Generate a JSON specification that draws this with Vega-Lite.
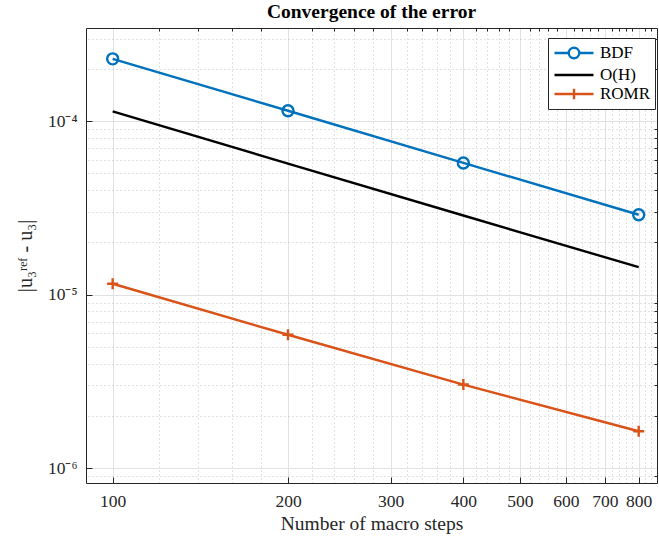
{
  "$schema": "https://vega.github.io/schema/vega-lite/v6.json",
  "autosize": "none",
  "width": 571,
  "height": 455,
  "padding": {"left": 86, "top": 28, "right": 2, "bottom": 58},
  "background": "white",
  "title": {"text": "Convergence of the error", "font": "Liberation Serif", "fontSize": 19.5, "fontWeight": "bold", "color": "#000000", "offset": 5, "anchor": "middle"},
  "config": {
    "font": "Liberation Serif",
    "view": {"stroke": null},
    "axis": {"domainColor": "#262626", "tickColor": "#262626", "labelColor": "#262626", "titleColor": "#262626", "labelFont": "Liberation Serif", "titleFont": "Liberation Serif", "labelFontSize": 17.5, "titleFontSize": 19.5, "titleFontWeight": "normal"}
  },
  "data": {"values": [
    {"steps": 100, "err": 2.29e-4, "method": "BDF"},
    {"steps": 200, "err": 1.15e-4, "method": "BDF"},
    {"steps": 400, "err": 5.75e-5, "method": "BDF"},
    {"steps": 800, "err": 2.89e-5, "method": "BDF"},
    {"steps": 100, "err": 1.14e-4, "method": "O(H)"},
    {"steps": 200, "err": 5.7e-5, "method": "O(H)"},
    {"steps": 400, "err": 2.86e-5, "method": "O(H)"},
    {"steps": 800, "err": 1.44e-5, "method": "O(H)"},
    {"steps": 100, "err": 1.156e-5, "method": "ROMR"},
    {"steps": 200, "err": 5.87e-6, "method": "ROMR"},
    {"steps": 400, "err": 3.03e-6, "method": "ROMR"},
    {"steps": 800, "err": 1.63e-6, "method": "ROMR"}
  ]},
  "layer": [
    {
      "mark": {"type": "line", "strokeWidth": 2.4},
      "encoding": {
        "x": {"field": "steps", "type": "quantitative", "scale": {"type": "log", "domain": [90, 860], "nice": false},
          "axis": {"orient": "bottom", "values": [100, 200, 300, 400, 500, 600, 700, 800], "format": "d", "grid": true, "gridColor": "#e2e2e2", "gridWidth": 1, "tickSize": -6, "labelPadding": 15, "title": "Number of macro steps", "titlePadding": 5, "labelFlush": false}},
        "y": {"field": "err", "type": "quantitative", "scale": {"type": "log", "domain": [8.2e-7, 3.45e-4], "nice": false},
          "axis": {"orient": "left", "values": [1e-6, 1e-5, 1e-4], "labelExpr": "datum.value < 5e-6 ? '10⁻⁶' : datum.value < 5e-5 ? '10⁻⁵' : '10⁻⁴'", "grid": true, "gridColor": "#e2e2e2", "gridWidth": 1, "tickSize": -6, "labelPadding": 15, "title": "|u₃ʳᵉᶠ - u₃|", "titlePadding": 12, "titleFontSize": 20}},
        "color": {"field": "method", "type": "nominal", "scale": {"domain": ["BDF", "O(H)", "ROMR"], "range": ["#0072BD", "#000000", "#D95319"]},
          "legend": {"title": null, "orient": "none", "legendX": 462, "legendY": 10, "padding": 4, "strokeColor": "#262626", "fillColor": "white", "labelFontSize": 17, "labelFont": "Liberation Serif", "labelColor": "#000000", "symbolSize": 380, "symbolOffset": 11, "symbolStrokeWidth": 2.4, "rowPadding": -2, "labelOffset": 15,
            "encode": {"symbols": {"update": {"shape": {"signal": "datum.value === 'BDF' ? 'M-2,0H-0.54M0.54,0H2M-0.54,0A0.54,0.54 0 1,1 0.54,0A0.54,0.54 0 1,1 -0.54,0' : datum.value === 'ROMR' ? 'M-2,0H2M0,-0.54V0.54' : 'M-2,0H2'"}, "fill": {"value": "transparent"}, "strokeWidth": {"value": 2.4}}}}}}
      }
    },
    {
      "transform": [{"filter": "datum.method !== 'O(H)'"}],
      "mark": {"type": "point", "filled": false, "strokeWidth": 2.4, "size": 121, "opacity": 1},
      "encoding": {
        "x": {"field": "steps", "type": "quantitative", "scale": {"type": "log", "domain": [90, 860], "nice": false},
          "axis": {"orient": "top", "values": [120, 140, 160, 180, 220, 240, 260, 280, 320, 340, 360, 380, 420, 440, 460, 480, 520, 540, 560, 580, 620, 640, 660, 680, 720, 740, 760, 780, 820, 840], "labels": false, "grid": true, "gridColor": "#c4c4c4", "gridDash": [1, 3], "gridWidth": 1, "tickSize": -3, "title": null}},
        "y": {"field": "err", "type": "quantitative", "scale": {"type": "log", "domain": [8.2e-7, 3.45e-4], "nice": false},
          "axis": {"orient": "right", "values": [9e-7, 2e-6, 3e-6, 4e-6, 5e-6, 6e-6, 7e-6, 8e-6, 9e-6, 2e-5, 3e-5, 4e-5, 5e-5, 6e-5, 7e-5, 8e-5, 9e-5, 2e-4, 3e-4], "labels": false, "grid": true, "gridColor": "#c4c4c4", "gridDash": [1, 3], "gridWidth": 1, "tickSize": -3, "title": null}},
        "color": {"field": "method", "type": "nominal", "scale": {"domain": ["BDF", "O(H)", "ROMR"], "range": ["#0072BD", "#000000", "#D95319"]}},
        "shape": {"condition": {"test": "datum.method === 'ROMR'", "value": "M-1,0H1M0,-1V1"}, "value": "circle"}
      }
    }
  ],
  "resolve": {"axis": {"x": "independent", "y": "independent"}}
}
